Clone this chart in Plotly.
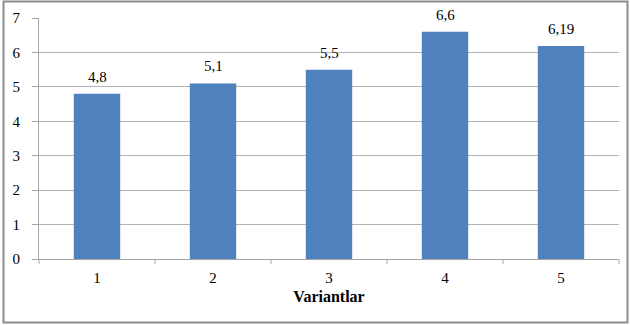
import plotly.graph_objects as go

# Yield by variant
variants = ["1", "2", "3", "4", "5"]
values = [4.8, 5.1, 5.5, 6.6, 6.19]
value_labels = ["4,8", "5,1", "5,5", "6,6", "6,19"]
y_ticks = [0, 1, 2, 3, 4, 5, 6, 7]

FONT = "Times New Roman"
BAR_COLOR = "#4F81BD"
GRID = "#B3B3B3"

fig = go.Figure(
    go.Bar(
        x=variants,
        y=values,
        marker=dict(color=BAR_COLOR, line=dict(width=0)),
        width=0.4,
        hoverinfo="x+y",
    )
)

# Value labels above each bar (category axis positions are 0-based indices)
for idx, (val, lab) in enumerate(zip(values, value_labels)):
    fig.add_annotation(
        x=idx, y=val, text=lab, showarrow=False,
        yanchor="bottom", yshift=7,
        font=dict(family=FONT, size=15, color="#000000"),
    )

W, H = 630, 325
L, R, T, B = 39, 11, 18, 66
pw, ph = W - L - R, H - T - B

def px_x(px):
    return (px - L) / pw

def px_y(py):
    return (H - B - py) / ph

fig.update_layout(
    width=W,
    height=H,
    margin=dict(l=L, r=R, t=T, b=B),
    paper_bgcolor="white",
    plot_bgcolor="white",
    showlegend=False,
    font=dict(family=FONT, size=15, color="#000000"),
    xaxis=dict(
        type="category",
        range=[-0.5, len(variants) - 0.5],
        showgrid=False,
        showline=True,
        linecolor="#A6A6A6",
        linewidth=1,
        ticks="",
        ticklabelstandoff=5,
        tickfont=dict(family=FONT, size=15),
        title=dict(text="<b>Variantlar</b>", font=dict(family=FONT, size=16), standoff=5),
    ),
    yaxis=dict(
        range=[0, 7],
        tickvals=y_ticks,
        showgrid=True,
        gridcolor=GRID,
        gridwidth=1,
        showline=True,
        linecolor="#A6A6A6",
        linewidth=1,
        ticks="outside",
        ticklen=6,
        tickcolor="#A6A6A6",
        ticklabelstandoff=9,
        tickfont=dict(family=FONT, size=15),
        zeroline=False,
    ),
    bargap=0.6,
)

# Category boundary tick marks below the x axis
for i in range(len(variants) + 1):
    xp = i / len(variants)
    fig.add_shape(
        type="line", xref="paper", yref="paper",
        x0=xp, x1=xp, y0=0, y1=px_y(H - B + 5),
        line=dict(color="#A6A6A6", width=1),
    )

# Outer frame around the chart
fig.add_shape(
    type="rect", xref="paper", yref="paper",
    x0=px_x(3.5), x1=px_x(627.5), y0=px_y(322.5), y1=px_y(1.5),
    line=dict(color="#8C8C8C", width=2),
    fillcolor="rgba(0,0,0,0)",
)

fig.write_html("out.html")
